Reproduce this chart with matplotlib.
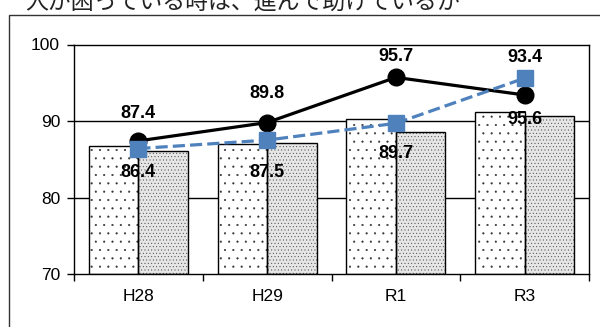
"""Bar + line chart: 人が困っている時は、進んで助けているか"""
import matplotlib
matplotlib.use("Agg")
import matplotlib.pyplot as plt
import numpy as np
from matplotlib.patches import Rectangle

plt.rcParams["font.family"] = ["Liberation Sans", "Noto Sans CJK JP", "DejaVu Sans"]
plt.rcParams["hatch.linewidth"] = 0.3

# ── Data ──────────────────────────────────────────────────────────────────────
years = ["H28", "H29", "R1", "R3"]
bar_a = [86.7, 87.0, 90.2, 91.2]     # sparse-dot bars
bar_b = [86.1, 87.1, 88.6, 90.7]     # dense-dot bars
line_black = [87.4, 89.8, 95.7, 93.4]
line_blue = [86.4, 87.5, 89.7, 95.6]

# label offsets (points) above the black line / below the blue line
black_off = [20, 21, 15, 27]
blue_off = [17, 23, 22, 30]

BLUE = "#4f81bd"
TITLE = "人が困っている時は、進んで助けているか"

# ── Figure ────────────────────────────────────────────────────────────────────
W, H = 600, 327
fig = plt.figure(figsize=(W / 100, H / 100), dpi=100)
fig.patch.set_facecolor("white")

# outer frame (runs off the right and bottom edges)
fig.add_artist(Rectangle((9 / W, -0.05), 1.05, 1 - 15 / H + 0.05,
                         transform=fig.transFigure, fill=False,
                         edgecolor="#333333", linewidth=1.0))
fig.text(25 / W, 1 - 8.5 / H, TITLE, ha="left", va="baseline",
         fontsize=16.5, family=["Noto Sans CJK JP"], color="#222222")

ax = fig.add_axes([74 / W, 1 - 274 / H, (589 - 74) / W, (274 - 44.5) / H])
x = np.arange(len(years))
bw = 0.385


def dotted_bars(xs, vals, face, hatch, dot_color):
    """Hatched fill in dot_color, then a black outline on top."""
    h = [v - 70 for v in vals]
    ax.bar(xs, h, bw, bottom=70, color=face, edgecolor=dot_color,
           linewidth=0, hatch=hatch, zorder=2)
    ax.bar(xs, h, bw, bottom=70, fill=False, edgecolor="black",
           linewidth=1.0, zorder=3)


dotted_bars(x - bw / 2, bar_a, "white", "..", "#333333")
dotted_bars(x + bw / 2, bar_b, "#e6e6e6", ".....", "#444444")

ax.plot(x, line_black, color="black", lw=2.3, marker="o", ms=12, zorder=4)
ax.plot(x, line_blue, color=BLUE, lw=2.3, marker="s", ms=11,
        dashes=(3.8, 1.6), zorder=5)

for xi, v, o in zip(x, line_black, black_off):
    ax.annotate(f"{v:.1f}", (xi, v), xytext=(0, o), textcoords="offset points",
                ha="center", va="center", fontsize=13, fontweight="bold",
                zorder=6)
for xi, v, o in zip(x, line_blue, blue_off):
    ax.annotate(f"{v:.1f}", (xi, v), xytext=(0, -o), textcoords="offset points",
                ha="center", va="center", fontsize=13, fontweight="bold",
                zorder=6)

ax.set_ylim(70, 100)
ax.set_yticks([70, 80, 90, 100])
ax.set_xlim(-0.5, len(years) - 0.5)
ax.set_xticks(x)
ax.set_xticklabels(years)
ax.set_xticks(np.arange(len(years) + 1) - 0.5, minor=True)
ax.tick_params(axis="x", which="major", length=0, pad=11, labelsize=12.5)
ax.tick_params(axis="x", which="minor", length=5, width=1.0, direction="out")
ax.tick_params(axis="y", length=5, width=1.0, direction="out", pad=5,
               labelsize=12.5)
for yv in (80, 90):
    ax.axhline(yv, color="black", lw=1.0, zorder=1)
for s in ax.spines.values():
    s.set_linewidth(1.0)
    s.set_color("black")

fig.savefig("out.png", dpi=100, facecolor="white")
